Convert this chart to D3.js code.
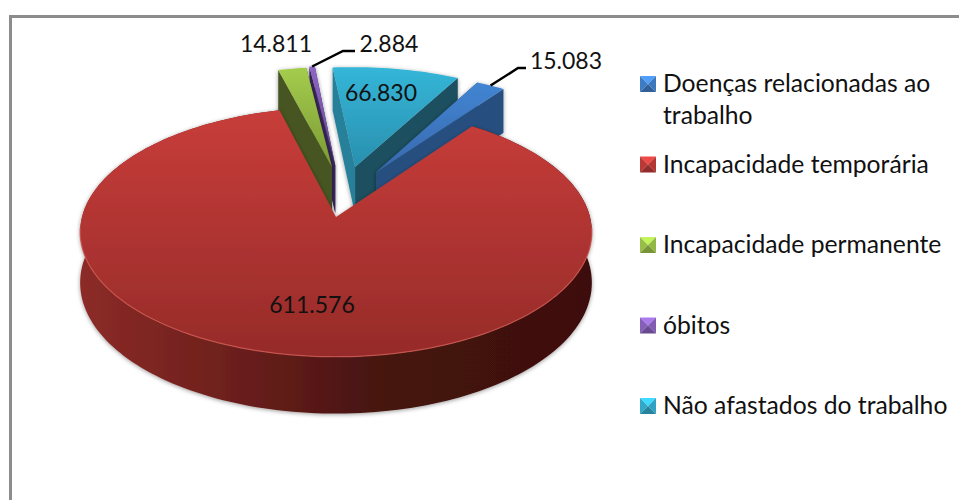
<!DOCTYPE html>
<html>
<head>
<meta charset="utf-8">
<script src="https://cdn.jsdelivr.net/npm/d3@7"></script>
<style>
  html, body { margin: 0; padding: 0; background: #fff; }
  svg { display: block; }
  text { font-family: Lato, "Open Sans", sans-serif; fill: #111; }
</style>
</head>
<body>
<svg id="chart" width="959" height="500"></svg>
<script>
// chart values
const categories = ["Doenças relacionadas ao trabalho", "Incapacidade temporária", "Incapacidade permanente", "óbitos", "Não afastados do trabalho"];
const values = [15083, 611576, 14811, 2884, 66830];
const legendLines = [["Doenças relacionadas ao", "trabalho"], ["Incapacidade temporária"], ["Incapacidade permanente"], ["óbitos"], ["Não afastados do trabalho"]];

// styling per slice: top start, top end, left wall, right wall
const topStart = ["#4285d2", "#c83d3a", "#a4cc4c", "#8f66c6", "#34b6d8"];
const topEnd = ["#3868ae", "#962b29", "#7c9a36", "#63458f", "#2a8fae"];
const leftWall = ["#28507f", "#5c1a18", "#465520", "#38285a", "#1c505f"];
const rightWall = ["#28507f", "#5c1a18", "#465520", "#38285a", "#25809a"];
// how far each slice is pulled out of the pie, in pie radii (sideways, backwards)
const explodeU = [0.165, 0, -0.017, -0.003, 0.079];
const explodeV = [0.38, 0, 0.427, 0.44, 0.427];

const width = 959, height = 500;
const svg = d3.select("#chart");
const defs = svg.append("defs");

// pie plane to screen, the far side is foreshortened
const cx = 336, cy = 217, radiusX = 254, radiusY = 123, thickness = 50, persp = 0.12;
function project(u, v, h = 0) {
  const w = 1 + persp * v;
  return [cx + radiusX * u / w, cy - (radiusY * v - thickness * h) / w];
}

const deg = Math.PI / 180;
const pie = d3.pie().sort(null).value(d => d).startAngle(28.4 * deg).endAngle(388.4 * deg);
const arcs = pie(values);
const line = d3.line();

function rimPoints(d, i, h, from = d.startAngle, to = d.endAngle) {
  const n = Math.max(2, Math.ceil((to - from) / (1.5 * deg)));
  return d3.range(n + 1).map(k => {
    const a = from + (to - from) * k / n;
    return project(explodeU[i] + Math.sin(a), explodeV[i] + Math.cos(a), h);
  });
}

defs.append("filter").attr("id", "soft")
  .attr("x", "-10%").attr("y", "-10%").attr("width", "120%").attr("height", "125%")
  .append("feDropShadow").attr("dx", 0).attr("dy", 1).attr("stdDeviation", 2)
  .attr("flood-color", "#000").attr("flood-opacity", 0.4);

categories.forEach((c, i) => {
  const g = defs.append("linearGradient").attr("id", `top${i}`).attr("x1", 0).attr("y1", 0).attr("x2", 0).attr("y2", 1);
  g.append("stop").attr("offset", "0%").attr("stop-color", topStart[i]);
  g.append("stop").attr("offset", "100%").attr("stop-color", topEnd[i]);
});

const wallGrad = defs.append("linearGradient").attr("id", "redWall").attr("x1", 0).attr("y1", 0).attr("x2", 1).attr("y2", 0);
[["0%", "#8c2b27"], ["30%", "#6c1f1c"], ["60%", "#451310"], ["100%", "#3e100e"]].forEach(s => {
  wallGrad.append("stop").attr("offset", s[0]).attr("stop-color", s[1]);
});

// frame, open on the right and at the bottom
svg.append("path")
  .attr("d", `M${width},16.5 H10.5 V${height}`)
  .attr("fill", "none").attr("stroke", "#8c8c8c").attr("stroke-width", 3);

// painter's order, far slices first and the big one last
const order = [4, 3, 2, 0, 1];
const pieG = svg.append("g");

order.forEach(i => {
  const d = arcs[i];
  const g = pieG.append("g").attr("filter", "url(#soft)");
  const apex = project(explodeU[i], explodeV[i]);
  const apexLow = project(explodeU[i], explodeV[i], 1);

  if (i === 1) {
    // only the big slice shows its outer wall
    const upper = rimPoints(d, i, 0);
    const lower = rimPoints(d, i, 1).reverse();
    g.append("path").attr("d", line(upper.concat(lower)) + "Z").attr("fill", "url(#redWall)");
  } else {
    const a0 = d.startAngle, a1 = d.endAngle;
    const outer = (a, h) => project(explodeU[i] + Math.sin(a), explodeV[i] + Math.cos(a), h);
    g.append("path").attr("d", line([apex, outer(a1, 0), outer(a1, 1), apexLow]) + "Z").attr("fill", leftWall[i]);
    g.append("path").attr("d", line([apex, outer(a0, 0), outer(a0, 1), apexLow]) + "Z").attr("fill", rightWall[i]);
  }

  g.append("path")
    .attr("d", line([apex].concat(rimPoints(d, i, 0))) + "Z")
    .attr("fill", `url(#top${i})`);

  if (i === 1) {
    // light bevel along the front edge
    pieG.append("path")
      .attr("d", line(rimPoints(d, i, 0, 95 * deg, 265 * deg)))
      .attr("fill", "none").attr("stroke", "#cf5a52").attr("stroke-width", 1.2).attr("stroke-opacity", 0.8);
  }
});

// leader lines
const fmt = d3.formatLocale({ decimal: ",", thousands: ".", grouping: [3], currency: ["", ""] }).format(",d");
const labelX = [566, 312, 276, 389, 381];
const labelY = [69, 313, 52, 52, 101];
const fontSize = 23, legendFontSize = 24.7;

function outerMid(i) {
  const a = (arcs[i].startAngle + arcs[i].endAngle) / 2;
  return project(explodeU[i] + Math.sin(a), explodeV[i] + Math.cos(a));
}
[[0, 518, 526, 68], [3, 343, 355, 51]].forEach(([i, ex, end, ey]) => {
  svg.append("path")
    .attr("d", line([outerMid(i), [ex, ey], [end, ey]]))
    .attr("fill", "none").attr("stroke", "#000").attr("stroke-width", 2.5);
});

svg.append("g").selectAll("text").data(values).join("text")
  .attr("x", (d, i) => labelX[i])
  .attr("y", (d, i) => labelY[i])
  .attr("text-anchor", "middle")
  .attr("font-size", fontSize)
  .text(d => fmt(d));

// legend
const legendY = d3.scalePoint().domain(categories).range([84, 406]);
const legend = svg.append("g").selectAll("g").data(categories).join("g")
  .attr("transform", d => `translate(640,${legendY(d)})`);

const sw = 8;
legend.each(function (c, i) {
  const g = d3.select(this);
  const base = d3.color(topStart[i]);
  const faces = [
    [[-sw, -sw], [sw, -sw], [0, 0], base.brighter(0.5)],
    [[-sw, -sw], [-sw, sw], [0, 0], base.darker(0.2)],
    [[sw, -sw], [sw, sw], [0, 0], base.darker(0.3)],
    [[-sw, sw], [sw, sw], [0, 0], base.darker(0.9)]
  ];
  faces.forEach(f => {
    g.append("path").attr("d", line(f.slice(0, 3)) + "Z").attr("fill", f[3]).attr("transform", `translate(${sw},0)`);
  });
  g.selectAll("text").data(legendLines[i]).join("text")
    .attr("x", 23)
    .attr("y", (t, k) => 8 + k * 32)
    .attr("font-size", legendFontSize)
    .text(t => t);
});
</script>
</body>
</html>
